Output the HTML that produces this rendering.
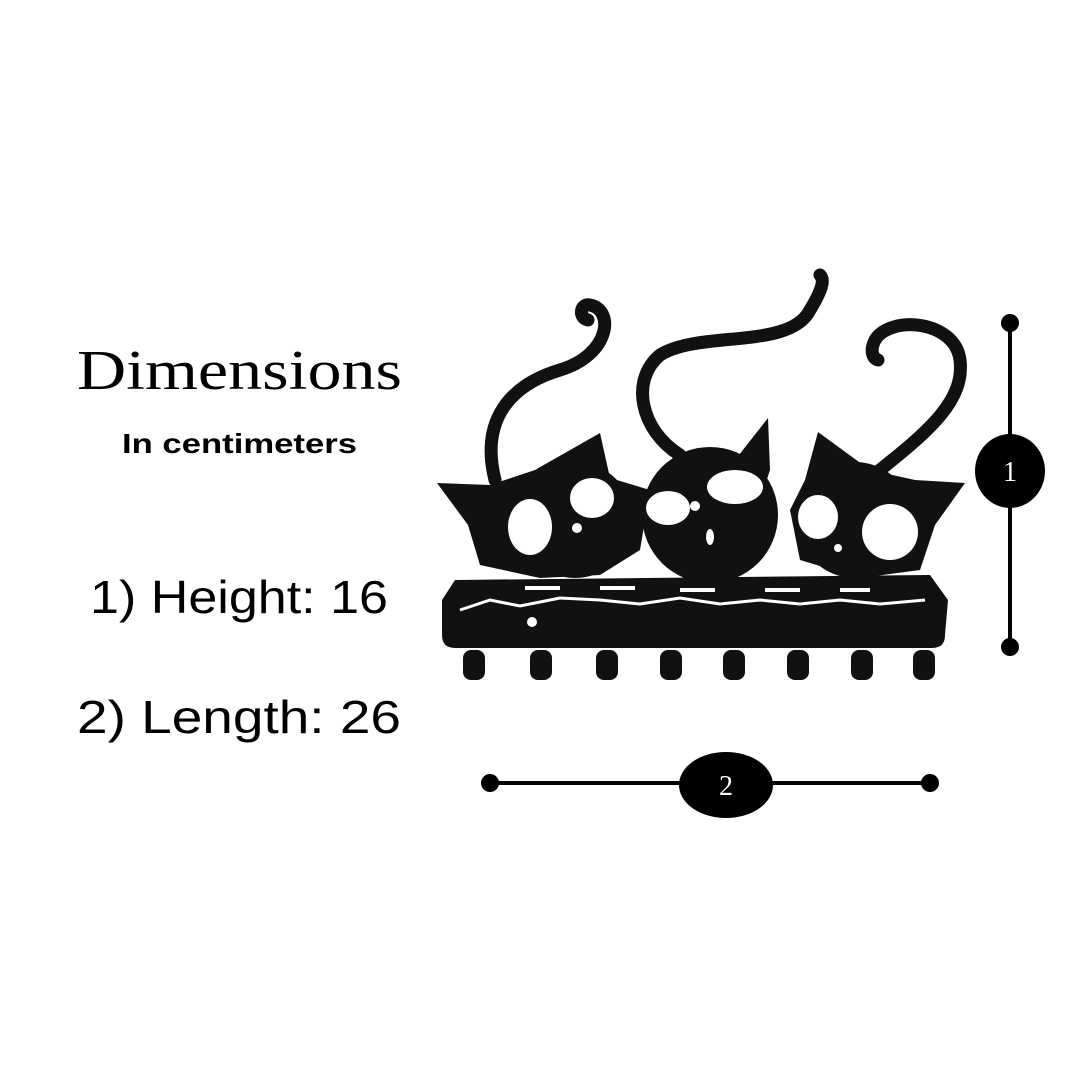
<!DOCTYPE html>
<html><head><meta charset="utf-8"><style>
html,body{margin:0;padding:0;background:#fff;width:1080px;height:1080px;overflow:hidden}
</style></head><body>
<svg width="1080" height="1080" viewBox="0 0 1080 1080" xmlns="http://www.w3.org/2000/svg">
<rect width="1080" height="1080" fill="#fff"/>
<g fill="#000">
<text x="77" y="389" font-family="Liberation Serif, serif" font-size="56" textLength="325" lengthAdjust="spacingAndGlyphs">Dimensions</text>
<text x="122" y="453" font-family="Liberation Sans, sans-serif" font-weight="bold" font-size="28" textLength="235" lengthAdjust="spacingAndGlyphs">In centimeters</text>
<text x="90" y="613" font-family="Liberation Sans, sans-serif" font-size="46" textLength="298" lengthAdjust="spacingAndGlyphs">1) Height: 16</text>
<text x="77" y="733" font-family="Liberation Sans, sans-serif" font-size="46" textLength="324" lengthAdjust="spacingAndGlyphs">2) Length: 26</text>
</g>
<!-- vertical dimension -->
<line x1="1010" y1="323" x2="1010" y2="647" stroke="#000" stroke-width="4"/>
<circle cx="1010" cy="323" r="9"/><circle cx="1010" cy="647" r="9"/>
<ellipse cx="1010" cy="471" rx="35" ry="37"/>
<text x="1010" y="481" fill="#fff" font-family="Liberation Serif, serif" font-size="28" text-anchor="middle">1</text>
<!-- horizontal dimension -->
<line x1="490" y1="783" x2="930" y2="783" stroke="#000" stroke-width="4"/>
<circle cx="490" cy="783" r="9"/><circle cx="930" cy="783" r="9"/>
<ellipse cx="726" cy="785" rx="47" ry="33"/>
<text x="726" y="795" fill="#fff" font-family="Liberation Serif, serif" font-size="28" text-anchor="middle">2</text>
<!-- cats -->
<g fill="#111" stroke="none">
<!-- tails -->
<path d="M495 480 C480 420 510 385 560 370 C610 355 615 310 590 305 C580 303 578 318 588 320" fill="none" stroke="#111" stroke-width="13" stroke-linecap="round"/>
<path d="M680 455 C640 430 630 380 660 355 C700 330 790 350 810 310 C822 290 825 280 820 275" fill="none" stroke="#111" stroke-width="13" stroke-linecap="round"/>
<path d="M880 470 C930 430 965 400 960 360 C955 320 890 315 875 340 C870 350 872 358 878 360" fill="none" stroke="#111" stroke-width="13" stroke-linecap="round"/>
<!-- left cat -->
<path d="M437 483 L490 485 L535 470 L600 433 L610 478 L650 490 L640 550 L600 575 L540 578 L480 565 L468 525 Z"/>
<circle cx="575" cy="520" r="58"/>
<!-- right cat -->
<path d="M965 483 L915 480 L870 470 L818 432 L805 480 L790 510 L800 560 L860 578 L920 570 L935 525 Z"/>
<circle cx="855" cy="520" r="58"/>
<!-- middle cat -->
<path d="M665 470 L690 455 L735 460 L768 418 L770 470 L760 500 Z"/>
<circle cx="710" cy="515" r="68"/>
<!-- base -->
<path d="M455 580 L930 575 L948 600 L945 635 Q945 648 932 648 L455 648 Q442 648 442 635 L442 600 Z"/>
<!-- hooks -->
<g>
<rect x="463" y="650" width="22" height="30" rx="8"/>
<rect x="530" y="650" width="22" height="30" rx="8"/>
<rect x="596" y="650" width="22" height="30" rx="8"/>
<rect x="660" y="650" width="22" height="30" rx="8"/>
<rect x="723" y="650" width="22" height="30" rx="8"/>
<rect x="787" y="650" width="22" height="30" rx="8"/>
<rect x="851" y="650" width="22" height="30" rx="8"/>
<rect x="913" y="650" width="22" height="30" rx="8"/>
</g>
</g>
<!-- eyes & details -->
<g fill="#fff">
<ellipse cx="530" cy="527" rx="22" ry="28"/>
<ellipse cx="592" cy="498" rx="22" ry="20"/>
<ellipse cx="668" cy="508" rx="22" ry="17"/>
<ellipse cx="735" cy="487" rx="28" ry="17"/>
<ellipse cx="818" cy="517" rx="20" ry="22"/>
<ellipse cx="890" cy="532" rx="28" ry="28"/>
<ellipse cx="710" cy="537" rx="4" ry="8"/>
<circle cx="577" cy="528" r="5"/>
<circle cx="695" cy="506" r="5"/>
<circle cx="838" cy="548" r="4"/>
<circle cx="532" cy="622" r="5"/>
<path d="M460 610 L490 600 L520 606 L560 598 L600 600 L640 604 L680 598 L720 604 L760 600 L800 604 L840 600 L880 604 L925 600" fill="none" stroke="#fff" stroke-width="3"/>
<path d="M525 588 L560 588 M600 588 L635 588 M680 590 L715 590 M765 590 L800 590 M840 590 L870 590" stroke="#fff" stroke-width="4"/>
</g>
</svg>
</body></html>
